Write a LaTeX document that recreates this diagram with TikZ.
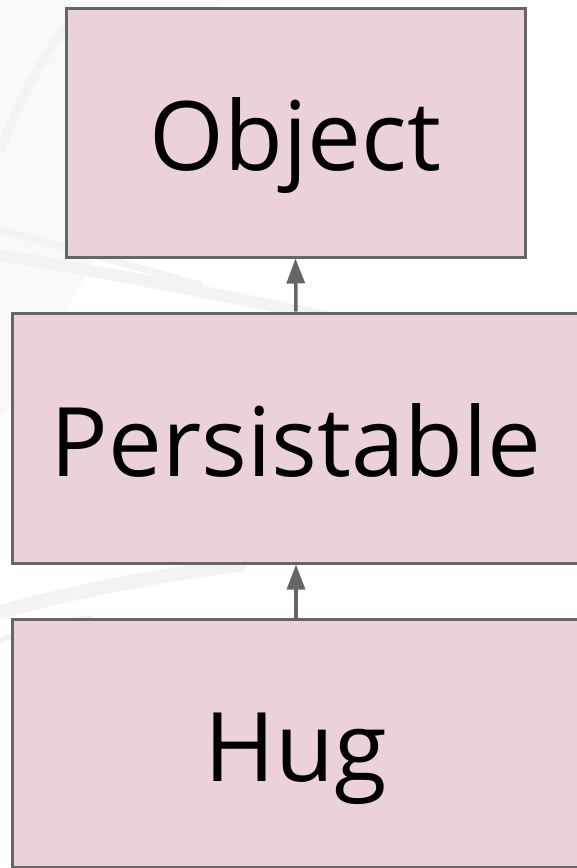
\documentclass[tikz,border=0pt]{standalone}
\usepackage{fontspec}
\setmainfont{Open Sans}
\usetikzlibrary{arrows.meta}
\definecolor{boxfill}{HTML}{EAD1DC}
\definecolor{boxline}{HTML}{666666}
\definecolor{streak}{HTML}{F3F3F3}
\definecolor{wash}{HTML}{F9F9F9}
\tikzset{
  classbox/.style={draw=boxline, fill=boxfill, line width=3pt, rectangle,
    inner sep=0pt, font=\fontsize{96}{96}\selectfont,
    text height=76pt, text depth=0pt},
  inherit/.style={draw=boxline, line width=3.5pt,
    -{Triangle[length=25pt,width=18pt]}},
  bgstreak/.style={draw=streak, line cap=round}
}
\begin{document}
\begin{tikzpicture}[x=1pt, y=-1pt]
  \useasboundingbox (0,0) rectangle (576,868);
  \fill[white] (0,0) rectangle (576,868);
  % faint background wash and streaks
  \fill[wash] (0,0) -- (220,0) .. controls (150,150) and (80,300) .. (0,420) -- cycle;
  \draw[bgstreak, line width=9pt] (0,150) .. controls (20,100) and (40,60) .. (70,20);
  \draw[bgstreak, line width=12pt] (0,255) .. controls (90,270) and (200,290) .. (330,318);
  \draw[bgstreak, line width=7pt] (0,230) .. controls (60,245) and (120,262) .. (200,285);
  \draw[bgstreak, line width=14pt] (0,612) .. controls (80,590) and (160,575) .. (240,565);
  \draw[bgstreak, line width=6pt] (0,640) .. controls (30,630) and (60,622) .. (90,618);
  % class boxes
  \node[classbox, minimum width=459pt, minimum height=249pt] (object) at (295.5,132.5) {Object};
  \node[classbox, minimum width=568pt, minimum height=250pt] (persistable) at (296,438) {Persistable};
  \node[classbox, minimum width=568pt, minimum height=248pt] (hug) at (296,743) {Hug};
  % inheritance arrows
  \draw[inherit] (persistable.north) -- (object.south);
  \draw[inherit] (hug.north) -- (persistable.south);
\end{tikzpicture}
\end{document}
